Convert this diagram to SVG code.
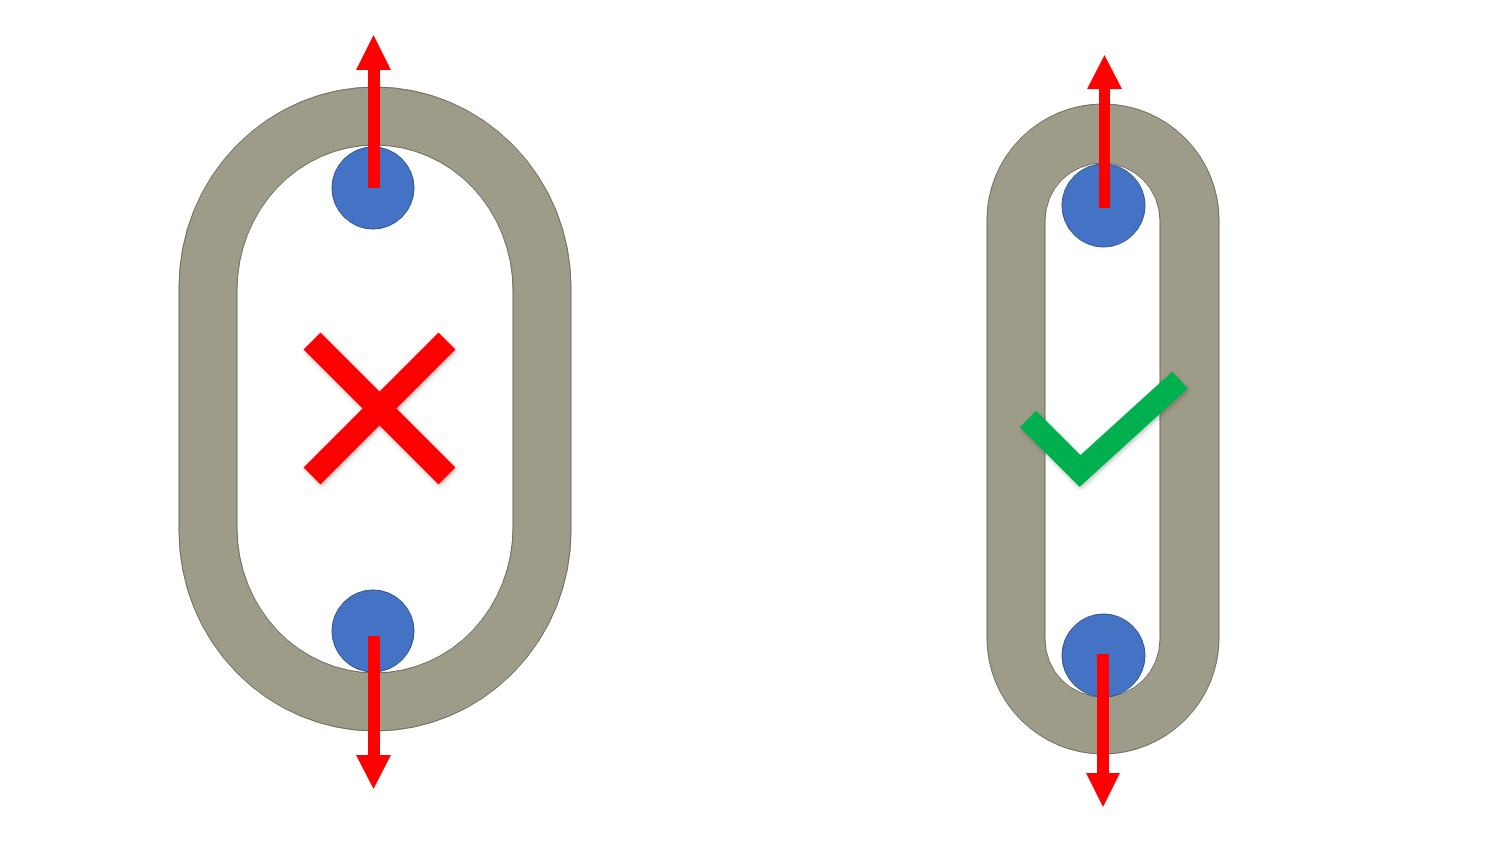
<svg xmlns="http://www.w3.org/2000/svg" width="1500" height="843" viewBox="0 0 1500 843">
  <defs>
    <style>
      .ring { fill: #9F9B89; stroke: #6E6A5C; stroke-width: 1; }
      .hole { fill: #FFFFFF; stroke: #6E6A5C; stroke-width: 1; }
      .pin { fill: #4472C4; stroke: #2F528F; stroke-width: 1; }
      .shaft { fill: #FF0000; }
      .head { fill: #FF0000; }
    </style>
    <filter id="shadow" x="-20%" y="-20%" width="140%" height="140%">
      <feDropShadow dx="1" dy="2" stdDeviation="2" flood-color="#000" flood-opacity="0.25"/>
    </filter>
  </defs>
  <rect width="1500" height="843" fill="#FFFFFF"/>

  <g id="link-left">
    <rect class="ring" x="179" y="87" width="392" height="644" rx="196" ry="200"/>
    <rect class="hole" x="237" y="145" width="276" height="528" rx="138" ry="145"/>
  </g>
  <g id="pins-left">
    <circle class="pin" cx="373" cy="188" r="41"/>
    <circle class="pin" cx="373" cy="631" r="41"/>
  </g>

  <g id="link-right">
    <rect class="ring" x="987" y="104" width="232" height="650" rx="116" ry="116"/>
    <rect class="hole" x="1045" y="163" width="115" height="534" rx="57.5" ry="57.5"/>
  </g>
  <g id="pins-right">
    <circle class="pin" cx="1103.5" cy="205.5" r="41.5"/>
    <circle class="pin" cx="1103.5" cy="655.5" r="41.5"/>
  </g>

  <g id="connectors">
    <rect class="shaft" x="368" y="66" width="12" height="122"/>
    <polygon class="head" points="356,70 391,70 373.5,35"/>
    <rect class="shaft" x="368" y="636" width="12" height="122"/>
    <polygon class="head" points="356,755 391,755 373.5,789"/>
    <rect class="shaft" x="1099" y="86" width="11" height="122"/>
    <polygon class="head" points="1087,89 1122,89 1104.5,55"/>
    <rect class="shaft" x="1097" y="654" width="12" height="122"/>
    <polygon class="head" points="1086,773 1120,773 1103,807"/>
  </g>

  <g id="cross" filter="url(#shadow)">
    <line x1="312" y1="341" x2="447" y2="476" stroke="#FF0000" stroke-width="24"/>
    <line x1="447" y1="341" x2="312" y2="476" stroke="#FF0000" stroke-width="24"/>
  </g>

  <g id="check" filter="url(#shadow)">
    <polyline points="1028,419 1080,471 1180,380" fill="none" stroke="#00B050" stroke-width="23" stroke-linejoin="miter" stroke-miterlimit="10"/>
  </g>
</svg>
